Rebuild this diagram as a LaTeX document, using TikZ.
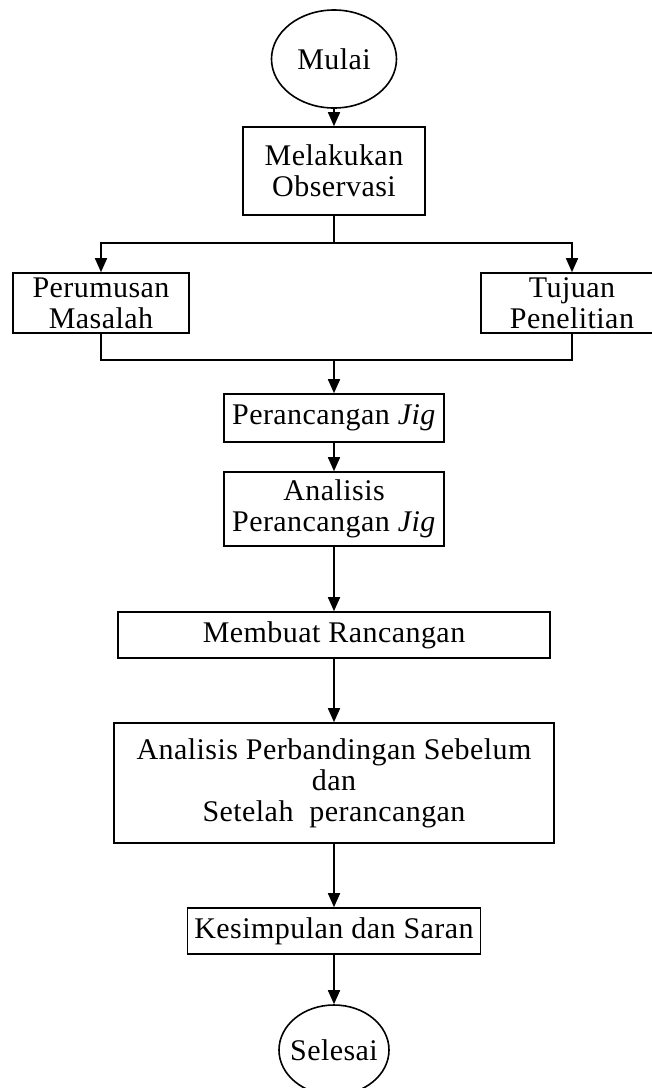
\documentclass[tikz,border=0pt]{standalone}
\usepackage{fontspec}
\setmainfont{Liberation Serif}[LetterSpace=1.5]
\usetikzlibrary{arrows.meta,shapes,positioning}
\tikzset{
  kotak/.style={draw=black, line width=0.8pt, rectangle, align=center, inner sep=2pt, font=\fontsize{15}{15.5}\selectfont},
  oval/.style={draw=black, line width=0.8pt, ellipse, inner sep=0pt, font=\fontsize{15}{15.5}\selectfont},
  panah/.style={line width=0.8pt, -{Triangle[width=6pt,length=7pt]}},
  garis/.style={line width=0.8pt}
}

\begin{document}
\begin{tikzpicture}[x=0.5pt,y=-0.5pt]
\useasboundingbox (0,0) rectangle (652,1088);

\node[oval, minimum width=62.5pt, minimum height=49pt] (mulai) at (334,59) {Mulai};
\node[kotak, minimum width=91pt, minimum height=44pt] (obs) at (334,171) {Melakukan\\Observasi};

\node[kotak, minimum width=88pt, minimum height=30pt] (rumus) at (101,303) {Perumusan\\Masalah};
\node[kotak, minimum width=91pt, minimum height=30pt] (tujuan) at (572,303) {Tujuan\\Penelitian};

\node[kotak, minimum width=110pt, minimum height=24pt] (jig) at (334,418) {Perancangan \textit{Jig}};
\node[kotak, minimum width=110pt, minimum height=37pt] (anajig) at (334,509) {Analisis\\Perancangan \textit{Jig}};
\node[kotak, minimum width=216pt, minimum height=23pt] (buat) at (334,635) {Membuat Rancangan};
\node[kotak, minimum width=220pt, minimum height=60pt] (banding) at (334,783) {Analisis Perbandingan Sebelum\\dan\\Setelah~~perancangan};
\node[kotak, minimum width=146.5pt, minimum height=23pt] (simpul) at (334,931) {Kesimpulan dan Saran};
\node[oval, inner xsep=-7pt, minimum width=55pt, minimum height=45pt] (selesai) at (334,1050) {Selesai};

\coordinate (pisah) at (obs.south |- 0,243);
\coordinate (gabung) at (obs.south |- 0,360);

\draw[panah] (mulai) -- (obs);
\draw[garis] (obs.south) -- (pisah);
\draw[panah] (pisah) -| (rumus.north);
\draw[panah] (pisah) -| (tujuan.north);
\draw[garis] (rumus.south) |- (gabung);
\draw[garis] (tujuan.south) |- (gabung);
\draw[panah] (gabung) -- (jig.north);

\draw[panah] (jig) -- (anajig);
\draw[panah] (anajig) -- (buat);
\draw[panah] (buat) -- (banding);
\draw[panah] (banding) -- (simpul);
\draw[panah] (simpul) -- (selesai);

\end{tikzpicture}
\end{document}
